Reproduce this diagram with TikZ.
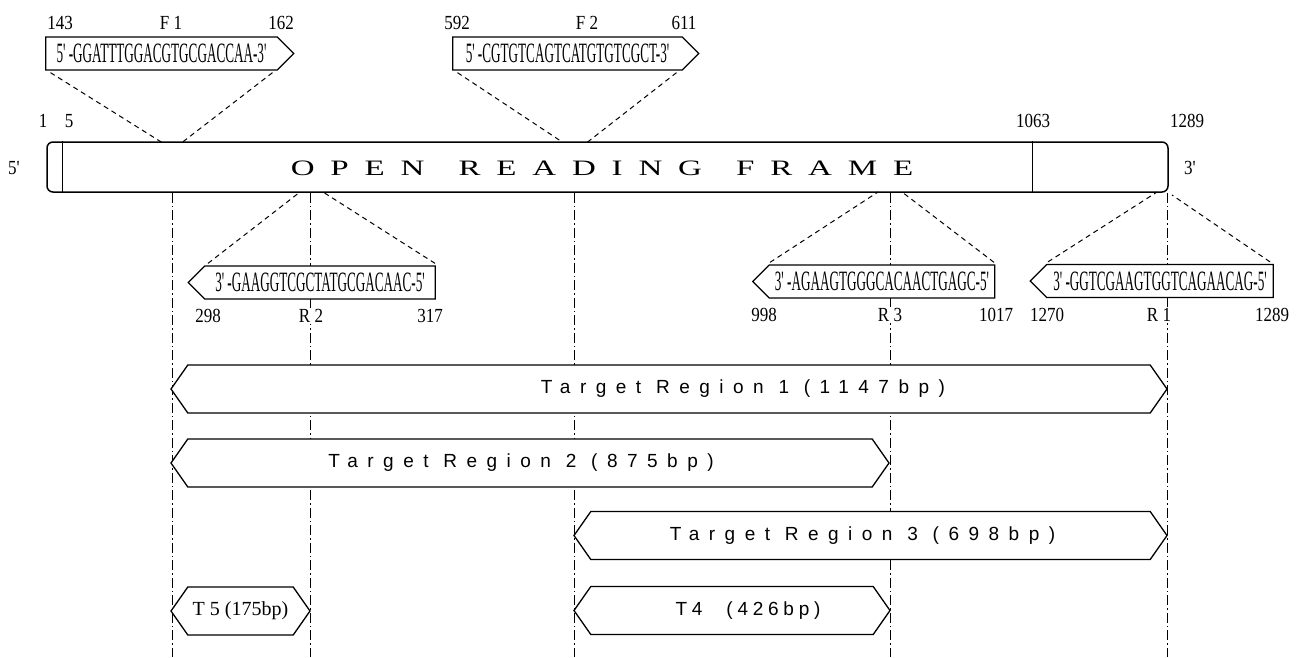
\documentclass[tikz,border=0pt]{standalone}
\usepackage{fontspec}
\setmainfont{Liberation Serif}
\newfontfamily\seqfont[FakeStretch=0.47]{Liberation Serif}
\newfontfamily\numfont[FakeStretch=0.85]{Liberation Serif}
\newfontfamily\orffont[FakeStretch=1.5,LetterSpace=72]{Liberation Serif}
\newfontfamily\regfont[LetterSpace=50]{Liberation Sans}
\newfontfamily\shortfont[LetterSpace=25]{Liberation Sans}
\usetikzlibrary{shapes.symbols}

\tikzset{
  orfbar/.style={draw, line width=1.5pt, rounded corners=6pt, minimum width=1121pt, minimum height=50pt, inner sep=0pt},
  primer/.style={draw, fill=white, line width=1.3pt, signal, signal pointer angle=90, minimum height=33pt, inner sep=0pt, font=\seqfont\fontsize{28}{30}\selectfont},
  fwd/.style={primer, signal to=east},
  rev/.style={primer, signal to=west},
  target/.style={draw, fill=white, line width=1.3pt, signal, signal to=east and west, signal pointer angle=110, minimum height=48pt, inner sep=0pt, font=\regfont\fontsize{19}{21}\selectfont},
  poslabel/.style={font=\numfont\fontsize{20}{22}\selectfont, inner sep=1pt},
  guide/.style={line width=1pt, dash pattern=on 5pt off 4pt},
  siteline/.style={line width=0.9pt, dash pattern=on 10pt off 3pt on 1.5pt off 3pt},
}

\begin{document}
\begin{tikzpicture}[x=1pt, y=-1pt]
    \useasboundingbox (0,0) rectangle (1304,657);

    % ORF bar
    \node[orfbar] (orf) at (607.5,167) {};
    \draw[line width=1pt] ([xshift=16pt]orf.north west) -- ([xshift=16pt]orf.south west);
    \draw[line width=1pt] ([xshift=-136pt]orf.north east) -- ([xshift=-136pt]orf.south east);
    \node[font=\orffont\fontsize{22}{24}\selectfont] (orftext) at (602,168) {OPEN\hspace{10pt} READING\hspace{10pt} FRAME};
    \node[poslabel] (end5) at (14,168) {5'};
    \node[poslabel] (end3) at (1190,168) {3'};
    \node[poslabel] (pos1) at (43,121) {1};
    \node[poslabel] (pos5) at (69,121) {5};
    \node[poslabel] (pos1063) at (1033,121) {1063};
    \node[poslabel] (pos1289) at (1187,121) {1289};

    % primer sites
    \coordinate (f1) at (172,142.5);
    \coordinate (f2) at (574,142.5);
    \coordinate (r2) at (310,192);
    \coordinate (r3) at (890,192);
    \coordinate (r1) at (1167,192);
    \coordinate (floor) at (0,657);
    \foreach \s in {f1,f2,r2,r3,r1}
        \draw[siteline] (\s |- orf.south) -- (\s |- floor);

    % primers
    \node[fwd, minimum width=248pt] (f1box) at (161.5,53.5) {5' -GGATTTGGACGTGCGACCAA-3'};
    \node[fwd, minimum width=246pt] (f2box) at (567.5,53.5) {5' -CGTGTCAGTCATGTGTCGCT-3'};
    \node[rev, minimum width=247pt] (r2box) at (320,282.5) {3' -GAAGGTCGCTATGCGACAAC-5'};
    \node[rev, minimum width=242pt] (r3box) at (882,281.5) {3' -AGAAGTGGGCACAACTGAGC-5'};
    \node[rev, minimum width=243pt] (r1box) at (1160,281) {3' -GGTCGAAGTGGTCAGAACAG-5'};

    \node[poslabel] (f1from) at (60,23) {143};
    \node[poslabel] (f1name) at (171,23) {F 1};
    \node[poslabel] (f1to) at (281,23) {162};
    \node[poslabel] (f2from) at (457,23) {592};
    \node[poslabel] (f2name) at (587,23) {F 2};
    \node[poslabel] (f2to) at (684,23) {611};
    \node[poslabel, fill=white] (r2from) at (208,316) {298};
    \node[poslabel, fill=white] (r2name) at (311,316) {R 2};
    \node[poslabel, fill=white] (r2to) at (430,316) {317};
    \node[poslabel, fill=white] (r3from) at (764,315) {998};
    \node[poslabel, fill=white] (r3name) at (890,315) {R 3};
    \node[poslabel, fill=white] (r3to) at (996,315) {1017};
    \node[poslabel, fill=white] (r1from) at (1047,315) {1270};
    \node[poslabel, fill=white] (r1name) at (1159,315) {R 1};
    \node[poslabel, fill=white] (r1to) at (1272,315) {1289};

    % zoom lines
    \draw[guide] ([xshift=-111pt,yshift=-2pt]f1box.south) -- ([xshift=-10pt]f1);
    \draw[guide] ([xshift=111pt,yshift=-2pt]f1box.south) -- ([xshift=10pt]f1);
    \draw[guide] ([xshift=-110pt,yshift=-2pt]f2box.south) -- ([xshift=-11pt]f2);
    \draw[guide] ([xshift=109pt,yshift=-2pt]f2box.south) -- ([xshift=13pt]f2);
    \draw[guide] ([xshift=-112pt,yshift=2pt]r2box.north) -- ([xshift=-10pt]r2);
    \draw[guide] ([xshift=115pt,yshift=2pt]r2box.north) -- ([xshift=13pt]r2);
    \draw[guide] ([xshift=-112pt,yshift=2pt]r3box.north) -- ([xshift=-12pt]r3);
    \draw[guide] ([xshift=112pt,yshift=2pt]r3box.north) -- ([xshift=12pt]r3);
    \draw[guide] ([xshift=-112pt,yshift=2pt]r1box.north) -- ([xshift=-10pt]r1);
    \draw[guide] ([xshift=110pt,yshift=2pt]r1box.north) -- ([xshift=5pt,yshift=-3pt]r1);

    % target regions
    \node[target, minimum width=996pt] (t1) at (669,389) {\hspace*{148pt}Target Region 1 (1147bp)};
    \node[target, minimum width=718pt] (t2) at (530,463) {Target Region 2 (875bp)\hspace*{18pt}};
    \node[target, minimum width=593pt] (t3) at (870.5,535.5) {Target Region 3 (698bp)\hspace*{16pt}};
    \node[target, minimum width=316pt, font=\shortfont\fontsize{19}{21}\selectfont] (t4) at (732,610.5) {\hspace*{32pt}T4\hspace{24pt}(426bp)};
    \node[target, minimum width=139pt, font=\fontsize{20}{22}\selectfont] (t5) at (240.5,611) {T 5 (175bp)};
\end{tikzpicture}
\end{document}
